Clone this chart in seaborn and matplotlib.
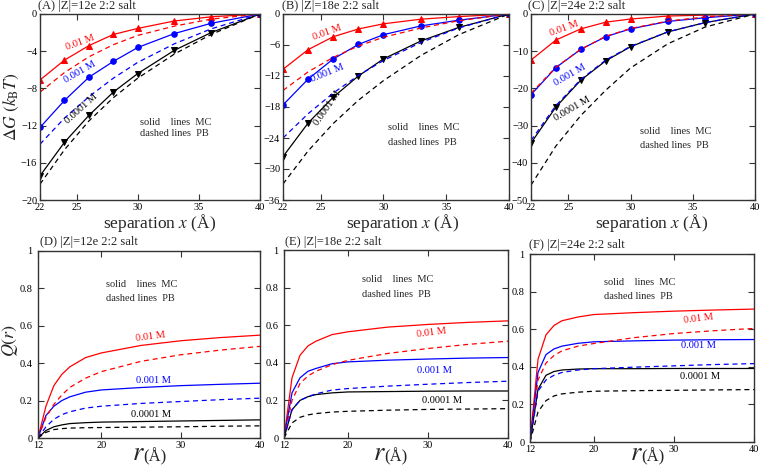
import numpy as np
import pandas as pd
import seaborn as sns
import matplotlib.pyplot as plt

# Datos
# ==============================================================================
sep = [22, 24, 26, 28, 30, 33, 36, 40]
conc_labels = ["0.01 M", "0.001 M", "0.0001 M"]

# (A) |Z|=12e
a_mc_001 = [-7.1, -4.96, -3.4, -2.2, -1.55, -0.75, -0.3, 0.0]
a_mc_0001 = [-12.2, -9.3, -6.8, -5.1, -3.6, -2.1, -1.0, 0.0]
a_mc_00001 = [-17.4, -13.8, -10.9, -8.4, -6.4, -3.9, -2.0, 0.0]
a_pb_001 = [-8.4, -6.3, -4.6, -3.3, -2.3, -1.3, -0.55, 0.0]
a_pb_0001 = [-14.0, -11.2, -8.9, -6.9, -5.2, -3.2, -1.6, 0.0]
a_pb_00001 = [-18.3, -14.6, -11.5, -9.0, -6.9, -4.3, -2.2, 0.0]

# (B) |Z|=18e
b_mc_001 = [-10.7, -6.9, -4.4, -2.9, -1.9, -1.0, -0.5, 0.0]
b_mc_0001 = [-17.6, -12.6, -8.7, -5.9, -4.0, -2.3, -1.2, 0.0]
b_mc_00001 = [-27.6, -21.1, -16.1, -12.0, -8.7, -5.2, -2.6, 0.0]
b_pb_001 = [-14.8, -11.2, -8.4, -6.2, -4.5, -2.7, -1.3, 0.0]
b_pb_0001 = [-24.0, -19.3, -15.3, -11.9, -9.0, -5.5, -2.7, 0.0]
b_pb_00001 = [-32.9, -26.5, -21.2, -16.7, -12.9, -8.0, -4.0, 0.0]

# (C) |Z|=24e
c_mc_001 = [-12.4, -7.0, -4.0, -2.2, -1.35, -0.55, -0.3, 0.0]
c_mc_0001 = [-21.7, -14.4, -9.5, -6.1, -4.0, -2.0, -1.0, 0.0]
c_mc_00001 = [-34.7, -25.0, -17.8, -12.6, -8.8, -4.8, -2.3, 0.0]
c_pb_001 = [-21.3, -14.3, -9.5, -6.0, -3.9, -1.9, -0.8, 0.0]
c_pb_0001 = [-34.0, -24.6, -17.6, -12.4, -8.7, -4.8, -2.3, 0.0]
c_pb_00001 = [-46.0, -35.5, -27.3, -20.5, -14.5, -8.0, -3.5, 0.0]

r = [12, 13, 14, 15, 16, 18, 20, 25, 30, 35, 40]

# (D) |Z|=12e
d_mc_001 = [0, 0.17, 0.28, 0.34, 0.38, 0.43, 0.455, 0.495, 0.52, 0.537, 0.55]
d_mc_0001 = [0, 0.12, 0.17, 0.2, 0.22, 0.245, 0.257, 0.27, 0.28, 0.287, 0.293]
d_mc_00001 = [0, 0.04, 0.06, 0.07, 0.077, 0.082, 0.085, 0.088, 0.091, 0.094, 0.097]
d_pb_001 = [0, 0.11, 0.18, 0.23, 0.27, 0.32, 0.355, 0.41, 0.445, 0.47, 0.49]
d_pb_0001 = [0, 0.06, 0.1, 0.125, 0.14, 0.16, 0.17, 0.185, 0.195, 0.205, 0.213]
d_pb_00001 = [0, 0.03, 0.045, 0.05, 0.053, 0.055, 0.056, 0.058, 0.06, 0.063, 0.065]

# (E) |Z|=18e
e_mc_001 = [0, 0.32, 0.44, 0.49, 0.515, 0.55, 0.565, 0.59, 0.604, 0.615, 0.623]
e_mc_0001 = [0, 0.24, 0.32, 0.355, 0.37, 0.395, 0.405, 0.414, 0.42, 0.425, 0.428]
e_mc_00001 = [0, 0.15, 0.2, 0.22, 0.231, 0.24, 0.245, 0.247, 0.249, 0.25, 0.25]
e_pb_001 = [0, 0.2, 0.29, 0.33, 0.355, 0.39, 0.413, 0.45, 0.476, 0.498, 0.515]
e_pb_0001 = [0, 0.15, 0.2, 0.22, 0.235, 0.255, 0.263, 0.276, 0.286, 0.295, 0.302]
e_pb_00001 = [0, 0.08, 0.11, 0.123, 0.13, 0.138, 0.142, 0.148, 0.152, 0.154, 0.156]

# (F) |Z|=24e
f_mc_001 = [0, 0.44, 0.57, 0.62, 0.645, 0.665, 0.678, 0.688, 0.696, 0.702, 0.707]
f_mc_0001 = [0, 0.37, 0.465, 0.495, 0.51, 0.525, 0.533, 0.538, 0.542, 0.544, 0.545]
f_mc_00001 = [0, 0.28, 0.355, 0.375, 0.383, 0.388, 0.39, 0.39, 0.391, 0.391, 0.391]
f_pb_001 = [0, 0.33, 0.42, 0.46, 0.485, 0.51, 0.524, 0.555, 0.577, 0.592, 0.604]
f_pb_0001 = [0, 0.27, 0.33, 0.355, 0.37, 0.383, 0.39, 0.398, 0.405, 0.412, 0.417]
f_pb_00001 = [0, 0.16, 0.22, 0.245, 0.256, 0.265, 0.27, 0.273, 0.275, 0.277, 0.279]

# Estilo
# ==============================================================================
sns.set_style("ticks")
plt.rcParams['font.family'] = ['Liberation Serif', 'DejaVu Serif']
plt.rcParams['mathtext.fontset'] = 'stix'

colores = ['#ff0000', '#0000ff', '#000000']
marcadores = ['^', 'o', 'v']

fig = plt.figure(figsize=(7.6, 4.7), dpi=100)


def px_box(left, right, top, bottom):
    return [left / 760, 1 - bottom / 470, (right - left) / 760, (bottom - top) / 470]


def estilo_ejes(ax, ypad=2):
    for s in ax.spines.values():
        s.set_color('#333333')
        s.set_linewidth(1.0)
    ax.tick_params(direction='in', top=True, right=True, length=4, width=0.8,
                   labelsize=7.5, colors='#333333', labelcolor='black', pad=2)
    ax.tick_params(axis='y', pad=ypad)


def panel_dg(box, mc, pb, ylim, yticks, etiquetas, texto_pos):
    ax = fig.add_axes(px_box(*box))
    for vals, col, mk in zip(mc, colores, marcadores):
        sns.lineplot(x=sep, y=vals, ax=ax, color=col, marker=mk, markersize=4,
                     markeredgecolor=col, linewidth=0.9)
    for vals, col in zip(pb, colores):
        sns.lineplot(x=sep, y=vals, ax=ax, color=col, linestyle=(0, (4, 3)), linewidth=0.9)
    ax.set_xlim(22, 40)
    ax.set_ylim(*ylim)
    ax.set_xticks([22, 25, 30, 35, 40])
    ax.set_yticks(yticks)
    ax.set_yticklabels([str(t).replace('-', '\u2212') for t in yticks])
    estilo_ejes(ax)
    for (x, y, rot), txt, col in zip(etiquetas, conc_labels, colores):
        ax.text(x, y, txt, color=col, fontsize=7.5, rotation=rot, ha='center', va='center')
    ax.text(texto_pos[0], texto_pos[1], "solid    lines  MC", fontsize=7.5)
    ax.text(texto_pos[0], texto_pos[2], "dashed lines  PB", fontsize=7.5)
    return ax


def panel_q(box, mc, pb, etiquetas, texto_pos):
    ax = fig.add_axes(px_box(*box))
    for vals, col in zip(mc, colores):
        sns.lineplot(x=r, y=vals, ax=ax, color=col, linewidth=0.9)
    for vals, col in zip(pb, colores):
        sns.lineplot(x=r, y=vals, ax=ax, color=col, linestyle=(0, (4, 3)), linewidth=0.9)
    ax.set_xlim(12, 40)
    ax.set_ylim(0, 1)
    ax.set_xticks([12, 20, 30, 40])
    ax.set_yticks([0, 0.2, 0.4, 0.6, 0.8, 1])
    ax.set_yticklabels(['0', '0.2', '0.4', '0.6', '0.8', '1'])
    estilo_ejes(ax, ypad=4)
    for (x, y, rot), txt, col in zip(etiquetas, conc_labels, colores):
        ax.text(x, y, txt, color=col, fontsize=7.5, rotation=rot, ha='center', va='center')
    ax.text(texto_pos[0], texto_pos[1], "solid    lines  MC", fontsize=7.5)
    ax.text(texto_pos[0], texto_pos[2], "dashed lines  PB", fontsize=7.5)
    return ax


# Paneles superiores
panel_dg((40, 260, 14, 200), [a_mc_001, a_mc_0001, a_mc_00001],
         [a_pb_001, a_pb_0001, a_pb_00001], (-20, 0), [0, -4, -8, -12, -16, -20],
         [(25.3, -3.1, 20), (25.3, -6.2, 30), (25.4, -10.2, 42)], (30.2, -11.9, -13.1))
panel_dg((283, 509, 14, 200), [b_mc_001, b_mc_0001, b_mc_00001],
         [b_pb_001, b_pb_0001, b_pb_00001], (-36, 0), [0, -6, -12, -18, -24, -30, -36],
         [(25.5, -3.6, 20), (25.5, -11.4, 22), (25.5, -18.3, 55)], (30.4, -22.4, -25.3))
panel_dg((531, 755, 14, 200), [c_mc_001, c_mc_0001, c_mc_00001],
         [c_pb_001, c_pb_0001, c_pb_00001], (-50, 0), [0, -10, -20, -30, -40, -50],
         [(24.7, -3.9, 20), (25.1, -16.5, 30), (25.3, -25.4, 30)], (30.75, -32.3, -36.0))

# Paneles inferiores
panel_q((38, 260, 251, 438), [d_mc_001, d_mc_0001, d_mc_00001],
        [d_pb_001, d_pb_0001, d_pb_00001],
        [(26.2, 0.54, 7), (26.6, 0.31, 0), (26.3, 0.125, 0)], (20.55, 0.81, 0.735))
panel_q((284, 508, 250, 438), [e_mc_001, e_mc_0001, e_mc_00001],
        [e_pb_001, e_pb_0001, e_pb_00001],
        [(30.4, 0.56, 7), (30.8, 0.36, 0), (31.7, 0.197, 0)], (21.7, 0.83, 0.75))
panel_q((530, 754, 254, 442), [f_mc_001, f_mc_0001, f_mc_00001],
        [f_pb_001, f_pb_0001, f_pb_00001],
        [(33.0, 0.657, 7), (33.0, 0.515, 0), (33.25, 0.346, 0)], (21.2, 0.835, 0.76))

# Títulos
titulos = ["(A) |Z|=12e 2:2 salt", "(B) |Z|=18e 2:2 salt", "(C) |Z|=24e 2:2 salt",
           "(D) |Z|=12e 2:2 salt", "(E) |Z|=18e 2:2 salt", "(F) |Z|=24e 2:2 salt"]
pos_titulos = [(38, 6), (282, 6), (528, 6), (40, 242), (285, 242), (529, 245)]
for t, (x, y) in zip(titulos, pos_titulos):
    fig.text(x / 760, 1 - y / 470, t, fontsize=9, ha='left', va='center')

# Etiquetas de ejes
for xc in [160, 403, 652]:
    fig.text(xc / 760, 1 - 228 / 470, "separation $x$ (Å)", fontsize=12.5,
             ha='center', va='baseline')
for xc in [147, 388, 645]:
    fig.text((xc - 9) / 760, 1 - 460 / 470, "$r$", fontsize=19, ha='center', va='baseline')
    fig.text((xc + 8) / 760, 1 - 461 / 470, "(Å)", fontsize=12, ha='center', va='baseline')

fig.text(11 / 760, 1 - 107 / 470, "$\\Delta G\\ (k_{\\rm B}T)$", fontsize=12.5,
         rotation=90, ha='center', va='center')
fig.text(10 / 760, 1 - 340 / 470, "$Q(r)$", fontsize=13, rotation=90,
         ha='center', va='center')

plt.savefig('out.png', dpi=100)
